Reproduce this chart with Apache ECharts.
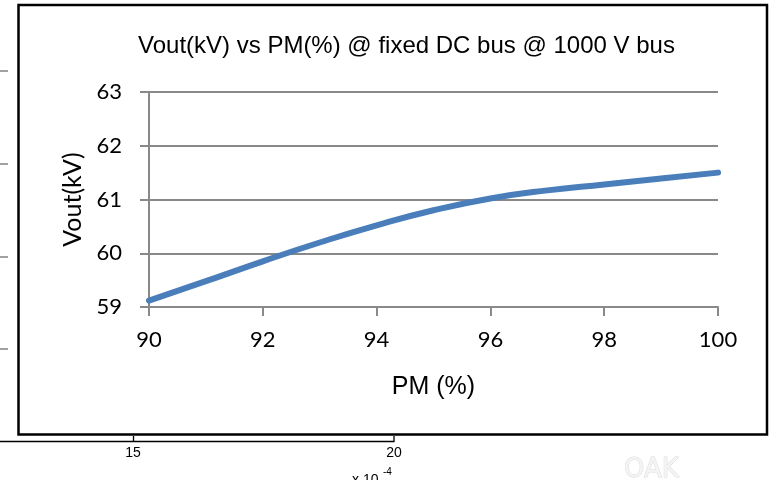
<!DOCTYPE html>
<html>
<head>
<meta charset="utf-8">
<script src="https://cdn.jsdelivr.net/npm/echarts@6/dist/echarts.min.js"></script>
<style>
  html, body { margin: 0; padding: 0; background: #ffffff; }
  #chart { width: 771px; height: 480px; }
</style>
</head>
<body>
<div id="chart"></div>
<script>
// Output voltage against pulse modulation, fixed 1000 V DC bus
const pmPercent = [90, 91, 92, 93, 94, 95, 96, 97, 98, 99, 100];
const voutKV = [59.12, 59.48, 59.85, 60.20, 60.52, 60.80, 61.02, 61.17, 61.28, 61.39, 61.50];

// Neighbouring figure fragments around the panel
const leftTickYs = [71, 164, 257, 349];
const bottomTickLabels = ['15', '20'];

const chart = echarts.init(document.getElementById('chart'), null, { renderer: 'canvas' });

const gridColor = '#898989';
const tickFont = 'Lato';

function note(x, y, text, size, align) {
  return {
    type: 'text', z: 100, x: x, y: y,
    style: {
      text: text,
      fontSize: size,
      fontFamily: 'Liberation Sans',
      fill: '#000',
      align: align,
      verticalAlign: 'middle'
    }
  };
}

const extras = [
  // panel frame
  {
    type: 'rect', z: 100,
    shape: { x: 18.5, y: 5, width: 748.5, height: 429.5 },
    style: { fill: null, stroke: '#000', lineWidth: 2.5 }
  },
  // axis fragment under the panel
  {
    type: 'line', z: 100,
    shape: { x1: 0, y1: 441.5, x2: 394.5, y2: 441.5 },
    style: { stroke: '#000', lineWidth: 1.3 }
  },
  {
    type: 'line', z: 100,
    shape: { x1: 133.5, y1: 436, x2: 133.5, y2: 441.5 },
    style: { stroke: '#000', lineWidth: 1.3 }
  },
  {
    type: 'line', z: 100,
    shape: { x1: 394, y1: 436, x2: 394, y2: 441.5 },
    style: { stroke: '#000', lineWidth: 1.3 }
  },
  note(133, 453.5, bottomTickLabels[0], 14, 'center'),
  note(394, 453.5, bottomTickLabels[1], 14, 'center'),
  note(352, 480, 'x 10', 14, 'left'),
  note(383, 472, '-4', 10, 'left'),
  // faint watermark
  {
    type: 'text', z: 100, x: 624, y: 470,
    style: {
      text: 'OAK', fontSize: 26, fontFamily: 'DejaVu Sans',
      fill: '#f4f4f4', stroke: '#dcdcdc', lineWidth: 1,
      align: 'left', verticalAlign: 'middle'
    }
  }
];

leftTickYs.forEach(function (y) {
  extras.push({
    type: 'line', z: 100,
    shape: { x1: 0, y1: y, x2: 8, y2: y },
    style: { stroke: '#444', lineWidth: 1 }
  });
});

chart.setOption({
  backgroundColor: '#ffffff',
  animation: false,
  title: {
    text: 'Vout(kV) vs PM(%) @ fixed DC bus @ 1000 V bus',
    left: 138,
    top: 34,
    padding: 0,
    textStyle: {
      fontFamily: 'Liberation Sans',
      fontSize: 24,
      fontWeight: 'normal',
      color: '#000'
    }
  },
  grid: {
    left: 149,
    right: 53,
    top: 92,
    bottom: 173,
    containLabel: false
  },
  xAxis: {
    type: 'value',
    min: 90,
    max: 100,
    interval: 2,
    name: 'PM (%)',
    nameLocation: 'middle',
    nameGap: 68,
    nameTextStyle: {
      fontFamily: 'Liberation Sans',
      fontSize: 25,
      color: '#000'
    },
    axisLine: { show: true, lineStyle: { color: gridColor, width: 2 } },
    axisTick: { show: true, length: 9, lineStyle: { color: gridColor, width: 2 } },
    axisLabel: {
      margin: 22,
      fontFamily: tickFont,
      fontSize: 22,
      color: '#000'
    },
    splitLine: { show: false }
  },
  yAxis: {
    type: 'value',
    min: 59,
    max: 63,
    interval: 1,
    name: 'Vout(kV)',
    nameLocation: 'middle',
    nameGap: 61,
    nameTextStyle: {
      fontFamily: tickFont,
      fontSize: 25,
      color: '#000'
    },
    axisLine: { show: true, lineStyle: { color: gridColor, width: 2 } },
    axisTick: { show: true, length: 9, lineStyle: { color: gridColor, width: 2 } },
    axisLabel: {
      margin: 27,
      fontFamily: tickFont,
      fontSize: 22,
      color: '#000'
    },
    splitLine: { show: true, lineStyle: { color: gridColor, width: 2 } }
  },
  series: [{
    type: 'line',
    data: pmPercent.map(function (p, i) { return [p, voutKV[i]]; }),
    smooth: 0.5,
    showSymbol: false,
    lineStyle: { color: '#4A7EBB', width: 6, cap: 'round', join: 'round' },
    clip: false
  }],
  graphic: { elements: extras }
});
</script>
</body>
</html>
